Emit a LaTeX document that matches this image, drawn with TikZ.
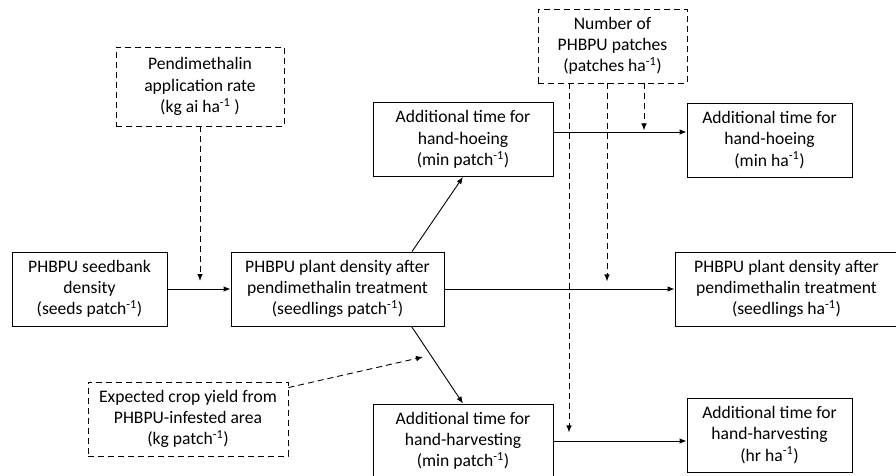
\documentclass[tikz,border=0pt]{standalone}
\usepackage{fontspec}
\setmainfont{Carlito}
\usetikzlibrary{arrows.meta}
\begin{document}
\begin{tikzpicture}[x=1pt,y=-1pt,
            box/.style={draw,line width=0.9pt,align=center,inner sep=0pt,minimum height=74pt,font=\fontsize{17.6}{21.2}\selectfont},
            dbox/.style={box,dash pattern=on 6pt off 4pt},
            arr/.style={-{Latex[length=7pt,width=5.5pt]},line width=0.9pt},
            darr/.style={arr,dash pattern=on 6pt off 4pt}]

            \useasboundingbox (0,0) rectangle (896,476);
            \node[box,minimum width=155pt] (seeds) at (89.5,289) {PHBPU seedbank\\density\\(seeds patch\textsuperscript{-1})};
            \node[box,minimum width=213pt] (dens) at (337.5,289) {PHBPU plant density after\\pendimethalin treatment\\(seedlings patch\textsuperscript{-1})};
            \node[box,minimum width=223pt] (densha) at (786.5,289) {PHBPU plant density after\\pendimethalin treatment\\(seedlings ha\textsuperscript{-1})};
            \node[dbox,minimum width=168pt,minimum height=79pt] (rate) at (200,86.5) {Pendimethalin\\application rate\\(kg ai ha\textsuperscript{-1} )};
            \node[dbox,minimum width=149pt] (npatch) at (612.5,46) {Number of\\PHBPU patches\\(patches ha\textsuperscript{-1})};
            \node[dbox,minimum width=200pt] (yield) at (188,419) {Expected crop yield from\\PHBPU-infested area\\(kg patch\textsuperscript{-1})};
            \node[box,minimum width=180pt] (hoe) at (463,139.5) {Additional time for\\hand-hoeing\\(min patch\textsuperscript{-1})};
            \node[box,minimum width=165pt] (hoeha) at (769.5,140) {Additional time for\\hand-hoeing\\(min ha\textsuperscript{-1})};
            \node[box,minimum width=180pt] (harv) at (463,441) {Additional time for\\hand-harvesting\\(min patch\textsuperscript{-1})};
            \node[box,minimum width=165pt] (harvha) at (769.5,435) {Additional time for\\hand-harvesting\\(hr ha\textsuperscript{-1})};

            \coordinate (ratej) at (200,281);
            \coordinate (yieldj) at (423,357);

            \draw[arr] (seeds.east) -- (dens.west);
            \draw[arr] (dens.east) -- (densha.west);
            \draw[arr] ([xshift=74.5pt]dens.north) -- (hoe.south);
            \draw[arr] ([xshift=74pt]dens.south) -- (harv.north);
            \draw[arr] ([yshift=7.5pt]hoe.east) -- ([yshift=7.5pt]hoe.east -| hoeha.west);
            \draw[arr] (harv.east) -- (harv.east -| harvha.west);
            \draw[darr] (rate.south) -- (ratej);
            \draw[darr] ([yshift=-6pt]yield.north east) -- (yieldj);
            \draw[darr] ([xshift=-43.5pt]npatch.south) -- ++(0,349);
            \draw[darr] ([xshift=-5.5pt]npatch.south) -- ++(0,198);
            \draw[darr] ([xshift=31.5pt]npatch.south) -- ++(0,47);
        \end{tikzpicture}
\end{document}
